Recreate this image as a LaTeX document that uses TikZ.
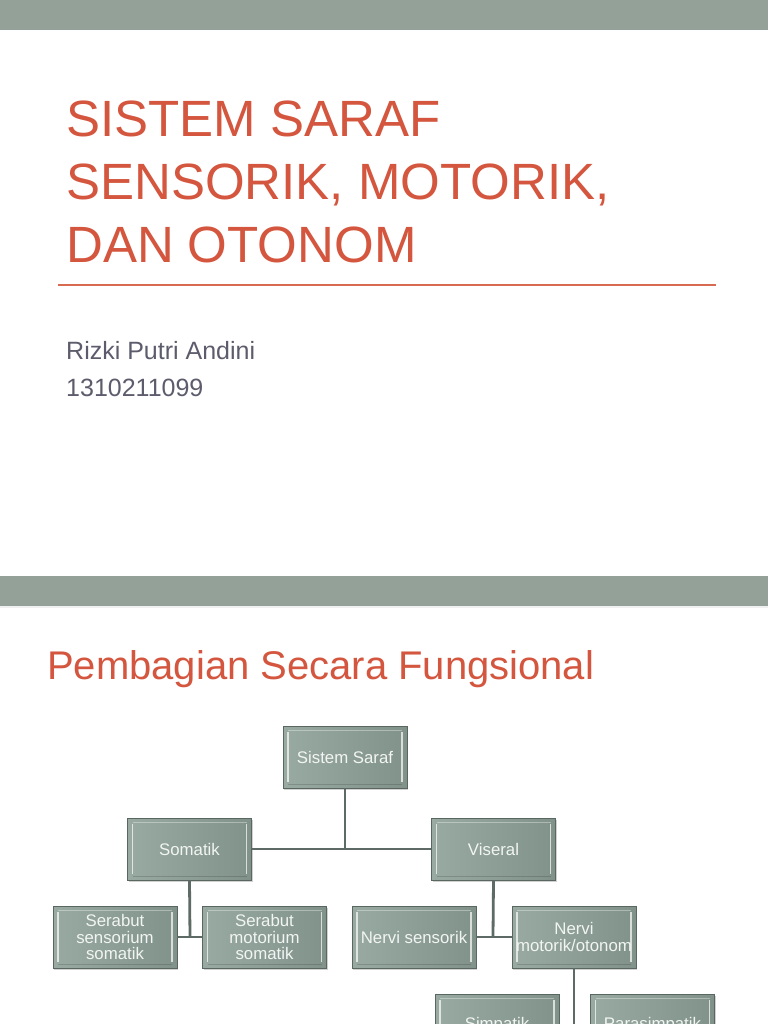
\documentclass[tikz,border=0pt]{standalone}
\usepackage{fontspec}
\setmainfont{Liberation Sans}
\usetikzlibrary{shadows}
\definecolor{barcol}{HTML}{93A198}
\definecolor{titlered}{HTML}{D4563E}
\definecolor{rulered}{HTML}{D96A52}
\definecolor{subgray}{HTML}{5C5C6C}
\definecolor{boxlight}{HTML}{98AAA1}
\definecolor{boxdark}{HTML}{81928A}
\definecolor{boxedge}{HTML}{5A6761}
\definecolor{linkcol}{HTML}{5E6A65}
\definecolor{boxtext}{HTML}{F2F5F3}
\tikzset{
  orgbox/.style={rectangle, minimum width=124pt, minimum height=62pt, inner sep=0pt,
    left color=boxlight, right color=boxdark, draw=boxedge, line width=0.9pt,
    text=boxtext, align=center, font=\fontsize{16.8}{16.5}\selectfont,
    drop shadow={shadow xshift=1.2pt, shadow yshift=-1.6pt, fill=black, opacity=.18},
    path picture={
      \draw[white, opacity=.7, line width=1.1pt]
        ([shift={(5pt,-6pt)}]path picture bounding box.north west) --
        ([shift={(5pt,6pt)}]path picture bounding box.south west);
      \draw[white, opacity=.7, line width=1.1pt]
        ([shift={(-5pt,-6pt)}]path picture bounding box.north east) --
        ([shift={(-5pt,6pt)}]path picture bounding box.south east);
      \draw[white, opacity=.35, line width=0.8pt]
        ([shift={(5pt,-4pt)}]path picture bounding box.north west) --
        ([shift={(-5pt,-4pt)}]path picture bounding box.north east);
      \draw[black, opacity=.15, line width=0.8pt]
        ([shift={(5pt,4pt)}]path picture bounding box.south west) --
        ([shift={(-5pt,4pt)}]path picture bounding box.south east);
    }},
  link/.style={draw=linkcol, line width=2.8pt},
  bigtitle/.style={anchor=base west, inner sep=0pt, text=titlered,
    font=\fontsize{51}{60}\selectfont},
  subtext/.style={anchor=base west, inner sep=0pt, text=subgray,
    font=\fontsize{25}{30}\selectfont},
}
\begin{document}
\begin{tikzpicture}[x=1pt,y=-1pt]
\useasboundingbox (0,0) rectangle (768,1024);
\clip (0,0) rectangle (768,1024);
\fill[white] (0,0) rectangle (768,1024);
% slide 1
\fill[barcol] (0,0) rectangle (768,30);
\node[bigtitle] (t1) at (66,137) {SISTEM SARAF};
\node[bigtitle] (t2) at (66,199.5) {SENSORIK, MOTORIK,};
\node[bigtitle] (t3) at (66,262) {DAN OTONOM};
\draw[rulered, line width=1.3pt] (58,285) -- (716,285);
\node[subtext] (n1) at (66,359) {Rizki Putri Andini};
\node[subtext] (n2) at (66,396) {1310211099};
% slide 2
\fill[barcol] (0,576) rectangle (768,606);
\fill[black!6] (0,606) rectangle (768,607.5);
\node[anchor=base west, inner sep=0pt, text=titlered, font=\fontsize{40}{48}\selectfont] (t4) at (47,679) {Pembagian Secara Fungsional};
\coordinate (c1) at (345,849);
\coordinate (c2) at (190,937);
\coordinate (c3) at (493,937);
\coordinate (c4) at (574,1025);
\node[orgbox] (ss) at (345,757) {Sistem Saraf};
\node[orgbox] (som) at (189.5,849) {Somatik};
\node[orgbox] (vis) at (493.5,849) {Viseral};
\node[orgbox] (ssen) at (115,937) {Serabut\\sensorium\\somatik};
\node[orgbox] (smot) at (264.5,937) {Serabut\\motorium\\somatik};
\node[orgbox] (nsen) at (414,937) {Nervi sensorik};
\node[orgbox] (nmot) at (574,937) {Nervi\\motorik/otonom};
\node[orgbox] (simp) at (497,1025) {Simpatik};
\node[orgbox] (para) at (652.5,1025) {Parasimpatik};
\draw[link] (ss.south) -- (c1);
\draw[link] (som.east) -- (vis.west);
\draw[link] (som.south) -- (c2);
\draw[link] (ssen.east) -- (smot.west);
\draw[link] (vis.south) -- (c3);
\draw[link] (nsen.east) -- (nmot.west);
\draw[link] (nmot.south) -- (c4);
\draw[link] (simp.east) -- (para.west);
\end{tikzpicture}
\end{document}
